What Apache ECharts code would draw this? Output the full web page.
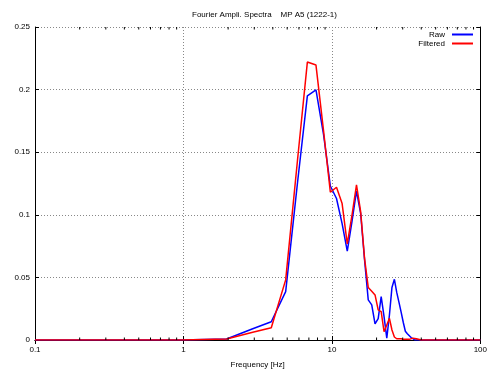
<!DOCTYPE html>
<html>
<head>
<meta charset="utf-8">
<script src="https://cdn.jsdelivr.net/npm/echarts@6/dist/echarts.min.js"></script>
<style>html,body{margin:0;padding:0;background:#fff;overflow:hidden}#c{width:490px;height:374px}</style>
</head>
<body>
<div id="c"></div>
<script>
const freq = [0.1, 0.977, 1.953, 2.930, 3.906, 4.883, 5.859, 6.836, 7.813, 8.789, 9.766, 10.742, 11.719, 12.695, 13.672, 14.648, 15.625, 16.602, 17.578, 18.555, 19.531, 20.508, 21.484, 22.461, 23.438, 24.414, 25.391, 26.367, 27.344, 28.320, 29.297, 30.273, 31.250, 32.227, 33.203, 34.180, 35.156, 36.133, 37.109, 38.086, 40, 50, 60, 70, 80, 90, 100];
const raw = [0, 0, 0.0008, 0.009, 0.0146, 0.0386, 0.125, 0.195, 0.1997, 0.164, 0.123, 0.113, 0.093, 0.071, 0.095, 0.119, 0.101, 0.064, 0.032, 0.028, 0.0128, 0.017, 0.0346, 0.0186, 0.0014, 0.02, 0.042, 0.0485, 0.038, 0.030, 0.022, 0.014, 0.007, 0.005, 0.004, 0.002, 0.0005, 0, 0, 0, 0, 0, 0, 0, 0, 0, 0];
const filtered = [0, 0, 0.0008, 0.0062, 0.0098, 0.048, 0.143, 0.222, 0.2196, 0.167, 0.118, 0.122, 0.109, 0.0767, 0.100, 0.124, 0.1025, 0.065, 0.042, 0.039, 0.036, 0.024, 0.0226, 0.0066, 0.012, 0.0173, 0.008, 0.0024, 0.001, 0.001, 0.001, 0.0005, 0.0005, 0.0005, 0.0005, 0.001, 0.0015, 0.0015, 0.001, 0.0005, 0, 0, 0, 0, 0, 0, 0];
const minorTicks = [0.2,0.3,0.4,0.5,0.6,0.7,0.8,0.9,2,3,4,5,6,7,8,9,20,30,40,50,60,70,80,90];
const titleText = 'Fourier Ampli. Spectra    MP A5 (1222-1)';
const xName = 'Frequency [Hz]';

const FONT = 'Liberation Sans';
const chart = echarts.init(document.getElementById('c'), null, {renderer: 'canvas', width: 490, height: 374});
const axisLine = {show: true, lineStyle: {color: '#000', width: 1}};
const gridLine = {show: true, lineStyle: {color: '#888', type: [1, 2], width: 1}};
chart.setOption({
  animation: false,
  backgroundColor: '#fff',
  title: {text: titleText, left: 259.5, textAlign: 'center', top: 6,
    textStyle: {fontFamily: FONT, fontSize: 8, fontWeight: 'normal', color: '#000'}},
  legend: {
    data: ['Raw', 'Filtered'], orient: 'vertical', right: 17, top: 30, align: 'right',
    padding: 0, itemWidth: 21, itemHeight: 2, itemGap: 0, icon: 'rect',
    textStyle: {fontFamily: FONT, fontSize: 8, color: '#000', lineHeight: 9, padding: [0, 2, 0, 0]}
  },
  grid: {left: 35, width: 449, top: 27, height: 313, containLabel: false},
  xAxis: [{
    type: 'log', logBase: 10, min: 0.1, max: 100, position: 'bottom',
    axisLine: axisLine,
    axisTick: {show: true, inside: true, length: 4, lineStyle: {color: '#000'}},
    axisLabel: {fontFamily: FONT, fontSize: 8, color: '#000', margin: 6,
      formatter: v => String(Math.round(v * 10) / 10)},
    splitLine: gridLine,
    name: xName, nameLocation: 'middle', nameGap: 21,
    nameTextStyle: {fontFamily: FONT, fontSize: 8, color: '#000'}
  }, {
    type: 'log', logBase: 10, min: 0.1, max: 100, position: 'top',
    axisLine: axisLine,
    axisTick: {show: true, inside: true, length: 4, lineStyle: {color: '#000'}},
    axisLabel: {show: false}, splitLine: {show: false}
  }],
  yAxis: [{
    type: 'value', min: 0, max: 0.25, interval: 0.05, position: 'left',
    axisLine: axisLine,
    axisTick: {show: true, inside: true, length: 4, lineStyle: {color: '#000'}},
    axisLabel: {fontFamily: FONT, fontSize: 8, color: '#000', margin: 5},
    splitLine: gridLine
  }, {
    type: 'value', min: 0, max: 0.25, interval: 0.05, position: 'right',
    axisLine: axisLine,
    axisTick: {show: true, inside: true, length: 4, lineStyle: {color: '#000'}},
    axisLabel: {show: false}, splitLine: {show: false}
  }],
  series: [
    {name: 'Raw', type: 'line', data: freq.map((f, i) => [f, raw[i]]), showSymbol: false,
      lineStyle: {color: '#0000ff', width: 1.5}, itemStyle: {color: '#0000ff'}, z: 3},
    {name: 'Filtered', type: 'line', data: freq.map((f, i) => [f, filtered[i]]), showSymbol: false,
      lineStyle: {color: '#ff0000', width: 1.5}, itemStyle: {color: '#ff0000'}, z: 4},
    {name: 'minor', type: 'custom', data: minorTicks.map(v => [v, 0]), silent: true, z: 5,
      renderItem: function (params, api) {
        const x = api.coord([api.value(0), 0])[0];
        const yb = params.coordSys.y + params.coordSys.height;
        const yt = params.coordSys.y;
        return {type: 'group', children: [
          {type: 'line', shape: {x1: x, y1: yb, x2: x, y2: yb - 2.5}, style: {stroke: '#000', lineWidth: 1}},
          {type: 'line', shape: {x1: x, y1: yt, x2: x, y2: yt + 2.5}, style: {stroke: '#000', lineWidth: 1}}
        ]};
      }}
  ]
});
</script>
</body>
</html>
